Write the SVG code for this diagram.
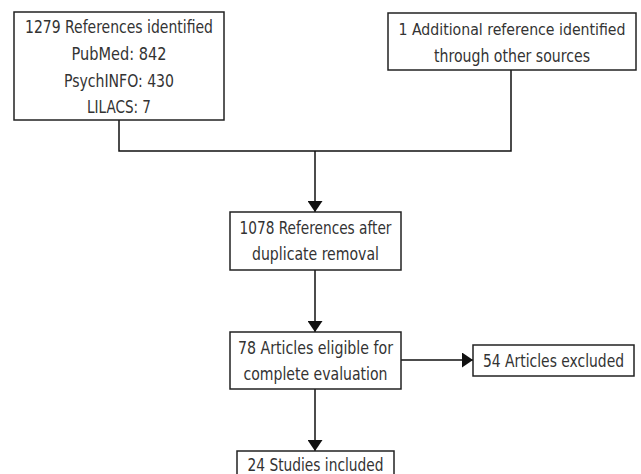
<svg xmlns="http://www.w3.org/2000/svg" width="641" height="474" viewBox="0 0 641 474">
<defs>
<style>
.box{fill:#fff;stroke:#222;stroke-width:1.5}
.t{font-family:"DejaVu Sans Condensed","Liberation Sans",Arial,sans-serif;font-stretch:condensed;font-size:17px;fill:#333;text-anchor:middle}
.c{fill:none;stroke:#111;stroke-width:1.5}
</style>
<marker id="av" viewBox="0 0 11 15" refX="11" refY="7.5" markerWidth="11" markerHeight="15" markerUnits="userSpaceOnUse" orient="auto">
<path d="M0,0 L11,7.5 L0,15 Z" fill="#111"/>
</marker>
</defs>
<rect width="641" height="474" fill="#fff"/>
<g id="connectors">
<path class="c" d="M119,120 V151 H511 V70"/>
<path class="c" d="M315,151 V212" marker-end="url(#av)"/>
<path class="c" d="M315,270 V332" marker-end="url(#av)"/>
<path class="c" d="M401,360 H473" marker-end="url(#av)"/>
<path class="c" d="M315,389 V451" marker-end="url(#av)"/>
</g>
<g id="n1">
<rect class="box" x="14" y="12" width="210" height="108"/>
<text class="t" x="119" y="33" textLength="188" lengthAdjust="spacingAndGlyphs">1279 References identified</text>
<text class="t" x="119" y="60" textLength="95" lengthAdjust="spacingAndGlyphs">PubMed: 842</text>
<text class="t" x="119" y="87" textLength="110" lengthAdjust="spacingAndGlyphs">PsychINFO: 430</text>
<text class="t" x="119" y="113" textLength="64" lengthAdjust="spacingAndGlyphs">LILACS: 7</text>
</g>
<g id="n2">
<rect class="box" x="388" y="13" width="248" height="57"/>
<text class="t" x="512" y="35" style="font-size:16px" textLength="227" lengthAdjust="spacingAndGlyphs">1 Additional reference identified</text>
<text class="t" x="512" y="62" textLength="156" lengthAdjust="spacingAndGlyphs">through other sources</text>
</g>
<g id="n3">
<rect class="box" x="230" y="212" width="171" height="58"/>
<text class="t" x="315.5" y="234" textLength="152" lengthAdjust="spacingAndGlyphs">1078 References after</text>
<text class="t" x="315.5" y="260" textLength="127" lengthAdjust="spacingAndGlyphs">duplicate removal</text>
</g>
<g id="n4">
<rect class="box" x="230" y="332" width="171" height="57"/>
<text class="t" x="315.5" y="354" textLength="155" lengthAdjust="spacingAndGlyphs">78 Articles eligible for</text>
<text class="t" x="315.5" y="380" textLength="144" lengthAdjust="spacingAndGlyphs">complete evaluation</text>
</g>
<g id="n5">
<rect class="box" x="473" y="345" width="161" height="31"/>
<text class="t" x="553.5" y="367" textLength="141" lengthAdjust="spacingAndGlyphs">54 Articles excluded</text>
</g>
<g id="n6">
<rect class="box" x="237" y="451" width="157" height="40"/>
<text class="t" x="315.5" y="471" textLength="136" lengthAdjust="spacingAndGlyphs">24 Studies included</text>
</g>
</svg>
